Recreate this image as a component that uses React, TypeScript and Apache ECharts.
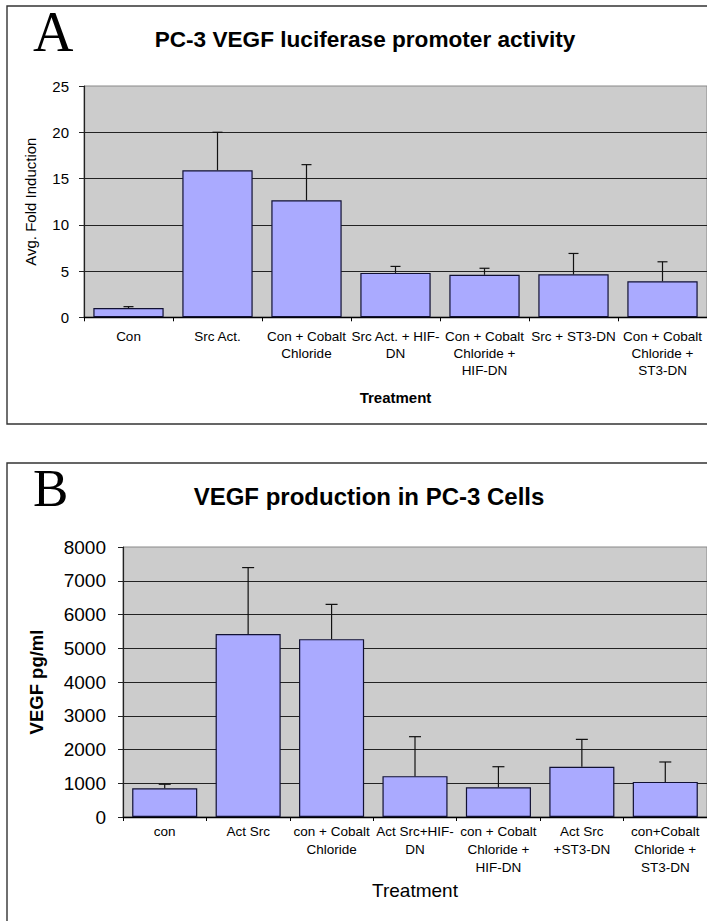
import React, { useEffect, useRef } from "react";
import * as echarts from "echarts";

// Panel A data
const aCategories = [
  "Con",
  "Src Act.",
  "Con + Cobalt\nChloride",
  "Src Act. + HIF-\nDN",
  "Con + Cobalt\nChloride +\nHIF-DN",
  "Src + ST3-DN",
  "Con + Cobalt\nChloride +\nST3-DN",
];
const aMeans = [1.0, 15.9, 12.65, 4.8, 4.6, 4.65, 3.9];
const aErrors = [0.15, 4.1, 3.85, 0.7, 0.7, 2.25, 2.1];
const aTitle = "PC-3 VEGF luciferase promoter activity";
const aYName = "Avg. Fold Induction";
const aXName = "Treatment";

// Panel B data
const bCategories = [
  "con",
  "Act Src",
  "con + Cobalt\nChloride",
  "Act Src+HIF-\nDN",
  "con + Cobalt\nChloride +\nHIF-DN",
  "Act Src\n+ST3-DN",
  "con+Cobalt\nChloride +\nST3-DN",
];
const bMeans = [850, 5420, 5270, 1210, 880, 1490, 1040];
const bErrors = [120, 1970, 1030, 1170, 610, 810, 590];
const bTitle = "VEGF production in PC-3 Cells";
const bYName = "VEGF pg/ml";
const bXName = "Treatment";

const FONT = "Arial, 'Liberation Sans', Helvetica, sans-serif";
const SERIF = "'Times New Roman', 'Liberation Serif', serif";
const BAR = "#aaaaff";
const PLOT_BG = "#cccccc";
const GRID_LINE = "#222222";

function errorSeries(means: number[], errs: number[], xAxisIndex: number, yAxisIndex: number, capW: number) {
  return {
    type: "custom",
    xAxisIndex,
    yAxisIndex,
    z: 5,
    data: means.map((m, i) => [i, m, m + errs[i]]),
    encode: { x: 0, y: [1, 2] },
    renderItem: (params: any, api: any) => {
      const i = api.value(0);
      const base = api.coord([i, api.value(1)]);
      const top = api.coord([i, api.value(2)]);
      const style = { stroke: "#111", lineWidth: 1.2 };
      return {
        type: "group",
        children: [
          { type: "line", shape: { x1: base[0], y1: base[1], x2: top[0], y2: top[1] }, style },
          { type: "line", shape: { x1: top[0] - capW / 2, y1: top[1], x2: top[0] + capW / 2, y2: top[1] }, style },
        ],
      };
    },
  };
}

export default function App() {
  const ref = useRef<HTMLDivElement>(null);
  useEffect(() => {
    if (!ref.current) return;
    const chart = echarts.init(ref.current, null, { renderer: "svg" });
    const catAxis = (idx: number, cats: string[], fs: number, lh: number, margin: number, name: string, nameStyle: any, nameGap: number) => ({
      type: "category",
      gridIndex: idx,
      data: cats,
      boundaryGap: true,
      axisLine: { show: true, lineStyle: { color: "#000", width: 1.3 } },
      axisTick: { show: true, length: 4, interval: 0, lineStyle: { color: "#000" } },
      axisLabel: { interval: 0, fontFamily: FONT, fontSize: fs, lineHeight: lh, color: "#000", margin },
      name,
      nameLocation: "middle",
      nameGap,
      nameTextStyle: nameStyle,
    });
    const valAxis = (idx: number, max: number, interval: number, fs: number, margin: number, name: string, nameStyle: any, nameGap: number) => ({
      type: "value",
      gridIndex: idx,
      min: 0,
      max,
      interval,
      axisLine: { show: true, lineStyle: { color: "#222", width: 1.2 } },
      axisTick: { show: true, length: 5, lineStyle: { color: "#222" } },
      axisLabel: { fontFamily: FONT, fontSize: fs, color: "#000", margin, formatter: (v: number) => String(v) },
      splitLine: { show: true, showMaxLine: false, lineStyle: { color: GRID_LINE, width: 1.2 } },
      name,
      nameLocation: "middle",
      nameGap,
      nameRotate: 90,
      nameTextStyle: nameStyle,
    });
    chart.setOption({
      animation: false,
      backgroundColor: "#ffffff",
      title: [
        {
          text: aTitle,
          left: 360,
          top: 23,
          textAlign: "center",
          textStyle: { fontFamily: FONT, fontWeight: "bold", fontSize: 22.6, color: "#000" },
        },
        {
          text: bTitle,
          left: 364,
          top: 479,
          textAlign: "center",
          textStyle: { fontFamily: FONT, fontWeight: "bold", fontSize: 24, color: "#000" },
        },
      ],
      grid: [
        { left: 84, top: 86, width: 625, height: 231.3, show: true, backgroundColor: PLOT_BG, borderColor: "#888", borderWidth: 1 },
        { left: 123, top: 547, width: 584, height: 270, show: true, backgroundColor: PLOT_BG, borderColor: "#888", borderWidth: 1 },
      ],
      xAxis: [
        catAxis(0, aCategories, 13.5, 17, 11, aXName, { fontFamily: FONT, fontWeight: "bold", fontSize: 15, color: "#000" }, 73),
        catAxis(1, bCategories, 13.5, 17.8, 6, bXName, { fontFamily: FONT, fontSize: 19, color: "#000" }, 64),
      ],
      yAxis: [
        valAxis(0, 25, 5, 15, 15, aYName, { fontFamily: FONT, fontSize: 15, color: "#000" }, 46),
        valAxis(1, 8000, 1000, 19, 17, bYName, { fontFamily: FONT, fontWeight: "bold", fontSize: 18.5, color: "#000" }, 77),
      ],
      series: [
        {
          type: "bar",
          xAxisIndex: 0,
          yAxisIndex: 0,
          data: aMeans,
          barWidth: "79%",
          itemStyle: { color: BAR, borderColor: "#111133", borderWidth: 1.2 },
        },
        errorSeries(aMeans, aErrors, 0, 0, 10),
        {
          type: "bar",
          xAxisIndex: 1,
          yAxisIndex: 1,
          data: bMeans,
          barWidth: "78%",
          itemStyle: { color: BAR, borderColor: "#111133", borderWidth: 1.2 },
        },
        errorSeries(bMeans, bErrors, 1, 1, 12),
      ],
      graphic: [
        { type: "rect", shape: { x: 7, y: 6, width: 720, height: 418 }, style: { fill: "none", stroke: "#333", lineWidth: 1.4 }, silent: true },
        { type: "rect", shape: { x: 7, y: 463, width: 720, height: 480 }, style: { fill: "none", stroke: "#333", lineWidth: 1.4 }, silent: true },
        { type: "text", x: 33, y: 32, style: { text: "A", font: `56px ${SERIF}`, fill: "#000", textAlign: "left", textVerticalAlign: "middle" }, silent: true },
        { type: "text", x: 33, y: 488, style: { text: "B", font: `53px ${SERIF}`, fill: "#000", textAlign: "left", textVerticalAlign: "middle" }, silent: true },
      ],
    });
    return () => chart.dispose();
  }, []);
  return <div ref={ref} style={{ position: "absolute", left: 0, top: 0, width: 707, height: 921 }} />;
}
